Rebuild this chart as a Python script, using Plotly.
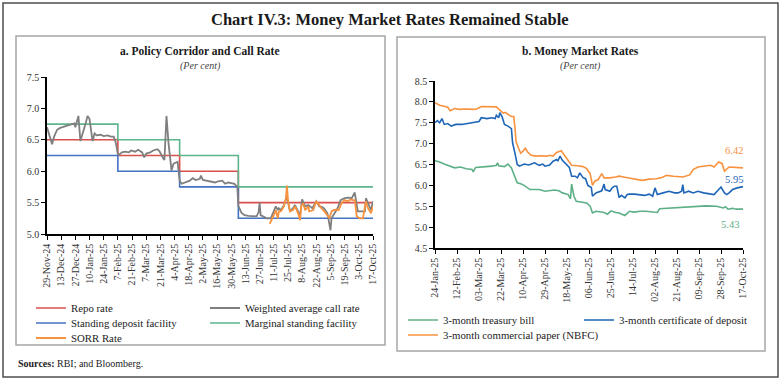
import plotly.graph_objects as go
import pandas as pd

W, H = 781, 380
SERIF = "Liberation Serif, DejaVu Serif, serif"

# ---------------- Panel a: Policy corridor and call rate ----------------
a_ticks = ["29-Nov-24", "13-Dec-24", "27-Dec-24", "10-Jan-25", "24-Jan-25", "7-Feb-25",
           "21-Feb-25", "7-Mar-25", "21-Mar-25", "4-Apr-25", "18-Apr-25", "2-May-25",
           "16-May-25", "30-May-25", "13-Jun-25", "27-Jun-25", "11-Jul-25", "25-Jul-25",
           "8-Aug-25", "22-Aug-25", "5-Sep-25", "19-Sep-25", "3-Oct-25", "17-Oct-25"]

policy_dates = ["2024-11-29", "2025-02-07", "2025-04-09", "2025-06-06", "2025-10-17"]
repo = [6.50, 6.25, 6.00, 5.50, 5.50]
sdf = [6.25, 6.00, 5.75, 5.25, 5.25]
msf = [6.75, 6.50, 6.25, 5.75, 5.75]

wacr_dates = ["2024-11-29", "2024-12-02", "2024-12-04", "2024-12-06", "2024-12-09", "2024-12-12",
              "2024-12-16", "2024-12-19", "2024-12-23", "2024-12-26", "2024-12-27", "2024-12-30",
              "2025-01-01", "2025-01-03", "2025-01-06", "2025-01-08", "2025-01-10", "2025-01-13",
              "2025-01-15", "2025-01-17", "2025-01-21", "2025-01-24", "2025-01-28", "2025-01-31",
              "2025-02-03", "2025-02-05", "2025-02-07", "2025-02-08", "2025-02-11", "2025-02-14",
              "2025-02-18", "2025-02-20", "2025-02-24", "2025-02-27", "2025-03-03", "2025-03-05",
              "2025-03-07", "2025-03-11", "2025-03-14", "2025-03-18", "2025-03-20", "2025-03-24",
              "2025-03-25", "2025-03-27", "2025-03-29", "2025-04-01", "2025-04-03", "2025-04-07",
              "2025-04-09", "2025-04-11", "2025-04-15", "2025-04-19", "2025-04-22", "2025-04-25",
              "2025-04-29", "2025-04-30", "2025-05-02", "2025-05-06", "2025-05-10", "2025-05-14",
              "2025-05-17", "2025-05-21", "2025-05-24", "2025-05-27", "2025-05-30", "2025-06-02",
              "2025-06-05", "2025-06-06", "2025-06-09", "2025-06-12", "2025-06-16", "2025-06-20",
              "2025-06-24", "2025-06-26", "2025-06-27", "2025-06-28", "2025-07-01", "2025-07-04",
              "2025-07-08", "2025-07-11", "2025-07-13", "2025-07-15", "2025-07-16", "2025-07-18",
              "2025-07-21", "2025-07-24", "2025-07-27", "2025-07-30", "2025-08-01", "2025-08-04",
              "2025-08-06", "2025-08-08", "2025-08-11", "2025-08-14", "2025-08-18", "2025-08-22",
              "2025-08-25", "2025-08-28", "2025-08-30", "2025-09-02", "2025-09-05", "2025-09-06",
              "2025-09-09", "2025-09-12", "2025-09-15", "2025-09-19", "2025-09-23", "2025-09-26",
              "2025-09-29", "2025-09-30", "2025-10-02", "2025-10-06", "2025-10-09", "2025-10-10",
              "2025-10-13", "2025-10-15", "2025-10-17"]
wacr = [6.70, 6.52, 6.43, 6.55, 6.66, 6.69,
        6.71, 6.72, 6.74, 6.76, 6.70, 6.88,
        6.48, 6.58, 6.75, 6.88, 6.83, 6.48,
        6.60, 6.57, 6.58, 6.56, 6.57, 6.55,
        6.55, 6.45, 6.27, 6.26, 6.30, 6.31,
        6.30, 6.33, 6.31, 6.34, 6.30, 6.22,
        6.28, 6.30, 6.33, 6.35, 6.32, 6.20,
        6.18, 6.88, 6.45, 6.01, 6.12, 6.15,
        5.85, 5.80, 5.83, 5.85, 5.89, 5.86,
        5.88, 5.93, 5.86, 5.85, 5.84, 5.82,
        5.84, 5.85, 5.80, 5.82, 5.81, 5.80,
        5.75, 5.45, 5.34, 5.30, 5.29, 5.28,
        5.28, 5.35, 5.50, 5.30, 5.27, 5.25,
        5.25, 5.36, 5.44, 5.38, 5.41, 5.38,
        5.46, 5.60, 5.36, 5.41, 5.46, 5.36,
        5.30, 5.55, 5.44, 5.46, 5.41, 5.52,
        5.44, 5.43, 5.40, 5.33, 5.06, 5.25,
        5.33, 5.41, 5.54, 5.57, 5.58, 5.57,
        5.66, 5.54, 5.36, 5.36, 5.36, 5.57,
        5.44, 5.38, 5.52]

sorr_dates = ["2025-07-07", "2025-07-10", "2025-07-11", "2025-07-13", "2025-07-15", "2025-07-16",
              "2025-07-18", "2025-07-21", "2025-07-23", "2025-07-24", "2025-07-25", "2025-07-27",
              "2025-07-30", "2025-08-01", "2025-08-04", "2025-08-06", "2025-08-07", "2025-08-09",
              "2025-08-11", "2025-08-14", "2025-08-15", "2025-08-19", "2025-08-22", "2025-08-25",
              "2025-08-27", "2025-08-30", "2025-09-02", "2025-09-04", "2025-09-06", "2025-09-08",
              "2025-09-11", "2025-09-13", "2025-09-16", "2025-09-19", "2025-09-22", "2025-09-25",
              "2025-09-27", "2025-09-29", "2025-10-01", "2025-10-04", "2025-10-07", "2025-10-10",
              "2025-10-12", "2025-10-15", "2025-10-17"]
sorr = [5.16, 5.25, 5.30, 5.38, 5.25, 5.36,
        5.36, 5.44, 5.57, 5.77, 5.54, 5.36,
        5.38, 5.44, 5.33, 5.22, 5.44, 5.49,
        5.38, 5.44, 5.36, 5.38, 5.52, 5.46,
        5.41, 5.36, 5.30, 5.25, 5.36, 5.38,
        5.39, 5.38, 5.49, 5.54, 5.52, 5.55,
        5.54, 5.54, 5.28, 5.25, 5.25, 5.52,
        5.41, 5.33, 5.44]

# ---------------- Panel b: Money market rates ----------------
b_ticks = ["24-Jan-25", "12-Feb-25", "03-Mar-25", "22-Mar-25", "10-Apr-25", "29-Apr-25",
           "18-May-25", "06-Jun-25", "25-Jun-25", "14-Jul-25", "02-Aug-25", "21-Aug-25",
           "09-Sep-25", "28-Sep-25", "17-Oct-25"]

cp_dates = ["2025-01-24", "2025-01-28", "2025-01-31", "2025-02-04", "2025-02-06", "2025-02-10",
            "2025-02-14", "2025-02-20", "2025-02-26", "2025-03-01", "2025-03-05", "2025-03-10",
            "2025-03-15", "2025-03-18", "2025-03-21", "2025-03-24", "2025-03-26", "2025-03-28",
            "2025-03-31", "2025-04-02", "2025-04-03", "2025-04-04", "2025-04-06", "2025-04-08",
            "2025-04-10", "2025-04-12", "2025-04-14", "2025-04-17", "2025-04-21", "2025-04-25",
            "2025-05-01", "2025-05-03", "2025-05-06", "2025-05-09", "2025-05-13", "2025-05-15",
            "2025-05-18", "2025-05-22", "2025-05-27", "2025-06-01", "2025-06-04", "2025-06-07",
            "2025-06-09", "2025-06-11", "2025-06-14", "2025-06-17", "2025-06-19", "2025-06-24",
            "2025-06-29", "2025-07-02", "2025-07-08", "2025-07-13", "2025-07-17", "2025-07-22",
            "2025-07-28", "2025-08-03", "2025-08-08", "2025-08-12", "2025-08-18", "2025-08-26",
            "2025-09-01", "2025-09-04", "2025-09-08", "2025-09-15", "2025-09-19", "2025-09-22",
            "2025-09-26", "2025-09-29", "2025-10-01", "2025-10-05", "2025-10-10", "2025-10-17"]
cp = [7.98, 7.92, 7.90, 7.87, 7.79, 7.84,
      7.82, 7.83, 7.82, 7.83, 7.89, 7.89,
      7.89, 7.88, 7.80, 7.73, 7.75, 7.70,
      7.65, 7.65, 7.40, 7.05, 6.90, 6.77,
      6.82, 6.89, 6.80, 6.72, 6.70, 6.71,
      6.70, 6.72, 6.70, 6.79, 6.83, 6.75,
      6.64, 6.48, 6.47, 6.45, 6.40, 6.28,
      6.00, 6.10, 6.14, 6.28, 6.18, 6.18,
      6.20, 6.22, 6.19, 6.16, 6.14, 6.12,
      6.15, 6.16, 6.19, 6.24, 6.22, 6.20,
      6.25, 6.38, 6.44, 6.46, 6.48, 6.44,
      6.56, 6.52, 6.34, 6.44, 6.43, 6.42]

cd_dates = ["2025-01-24", "2025-01-26", "2025-01-28", "2025-01-30", "2025-02-01", "2025-02-04",
            "2025-02-07", "2025-02-11", "2025-02-16", "2025-02-20", "2025-02-26", "2025-03-03",
            "2025-03-05", "2025-03-10", "2025-03-14", "2025-03-17", "2025-03-18", "2025-03-20",
            "2025-03-21", "2025-03-23", "2025-03-25", "2025-03-28", "2025-03-31", "2025-04-01",
            "2025-04-03", "2025-04-05", "2025-04-07", "2025-04-11", "2025-04-15", "2025-04-20",
            "2025-04-24", "2025-04-27", "2025-04-29", "2025-05-03", "2025-05-06", "2025-05-09",
            "2025-05-10", "2025-05-12", "2025-05-14", "2025-05-18", "2025-05-20", "2025-05-22",
            "2025-05-25", "2025-05-27", "2025-05-29", "2025-06-01", "2025-06-03", "2025-06-05",
            "2025-06-08", "2025-06-09", "2025-06-12", "2025-06-17", "2025-06-19", "2025-06-20",
            "2025-06-24", "2025-06-26", "2025-06-28", "2025-06-30", "2025-07-02", "2025-07-04",
            "2025-07-07", "2025-07-09", "2025-07-11", "2025-07-15", "2025-07-20", "2025-07-24",
            "2025-07-28", "2025-07-31", "2025-08-02", "2025-08-04", "2025-08-09", "2025-08-14",
            "2025-08-19", "2025-08-22", "2025-08-25", "2025-08-26", "2025-08-27", "2025-08-31",
            "2025-09-04", "2025-09-08", "2025-09-13", "2025-09-18", "2025-09-22", "2025-09-26",
            "2025-09-28", "2025-10-01", "2025-10-03", "2025-10-05", "2025-10-08", "2025-10-12",
            "2025-10-15", "2025-10-17"]
cd = [7.50, 7.55, 7.50, 7.60, 7.46, 7.48,
      7.42, 7.46, 7.46, 7.48, 7.52, 7.53,
      7.62, 7.60, 7.62, 7.60, 7.68, 7.62,
      7.74, 7.64, 7.46, 7.42, 7.36, 7.02,
      6.78, 6.50, 6.46, 6.51, 6.49, 6.54,
      6.48, 6.51, 6.46, 6.49, 6.58, 6.62,
      6.58, 6.70, 6.60, 6.48, 6.43, 6.22,
      6.22, 6.18, 6.30, 6.18, 6.16, 6.00,
      5.95, 5.74, 5.82, 5.87, 6.03, 5.90,
      5.86, 5.94, 5.98, 5.98, 5.71, 5.76,
      5.70, 5.78, 5.79, 5.79, 5.78, 5.76,
      5.79, 5.74, 5.94, 5.78, 5.82, 5.86,
      5.82, 5.82, 5.86, 6.02, 5.82, 5.86,
      5.82, 5.86, 5.82, 5.79, 5.78, 5.90,
      5.96, 5.82, 5.78, 5.82, 5.90, 5.94,
      5.95, 5.97]

tb_dates = ["2025-01-24", "2025-01-28", "2025-02-01", "2025-02-06", "2025-02-10", "2025-02-15",
            "2025-02-20", "2025-02-25", "2025-02-26", "2025-02-28", "2025-03-05", "2025-03-09",
            "2025-03-14", "2025-03-18", "2025-03-19", "2025-03-20", "2025-03-25", "2025-03-28",
            "2025-03-31", "2025-04-03", "2025-04-05", "2025-04-08", "2025-04-11", "2025-04-16",
            "2025-04-20", "2025-04-24", "2025-04-29", "2025-05-03", "2025-05-07", "2025-05-11",
            "2025-05-14", "2025-05-19", "2025-05-21", "2025-05-22", "2025-05-24", "2025-05-26",
            "2025-05-30", "2025-06-04", "2025-06-07", "2025-06-09", "2025-06-12", "2025-06-15",
            "2025-06-19", "2025-06-22", "2025-06-25", "2025-06-29", "2025-07-02", "2025-07-07",
            "2025-07-09", "2025-07-11", "2025-07-15", "2025-07-20", "2025-07-25", "2025-07-30",
            "2025-08-04", "2025-08-06", "2025-08-12", "2025-08-17", "2025-08-26", "2025-09-04",
            "2025-09-15", "2025-09-24", "2025-09-30", "2025-10-02", "2025-10-04", "2025-10-08",
            "2025-10-11", "2025-10-17"]
tbill = [6.59, 6.56, 6.51, 6.46, 6.42, 6.44,
         6.40, 6.38, 6.32, 6.43, 6.45, 6.45,
         6.46, 6.48, 6.54, 6.47, 6.45, 6.51,
         6.42, 6.18, 6.06, 6.04, 6.00, 5.90,
         5.90, 5.90, 5.86, 5.88, 5.89, 5.87,
         5.82, 5.78, 5.68, 6.03, 5.74, 5.62,
         5.60, 5.58, 5.50, 5.34, 5.38, 5.36,
         5.35, 5.31, 5.39, 5.35, 5.34, 5.28,
         5.34, 5.38, 5.36, 5.38, 5.38, 5.37,
         5.35, 5.44, 5.45, 5.46, 5.49, 5.50,
         5.51, 5.50, 5.46, 5.49, 5.43, 5.45,
         5.43, 5.43]

end_labels = ["6.42", "5.95", "5.43"]

# ---------------- colours ----------------
C_RED = "#D9504B"
C_GRAY = "#7F7F7F"
C_BLUE = "#4472C4"
C_GREEN = "#5DB58C"
C_ORANGE = "#F7923F"
C_DBLUE = "#1F66B8"
C_TGREEN = "#5DAF86"


def px(x):
    return x / W


def py(y):
    return 1 - y / H


fig = go.Figure()

# panel a traces (separate legend ids place them in two columns)
fig.add_trace(go.Scatter(x=policy_dates, y=repo, mode="lines", line=dict(color=C_RED, width=1.6, shape="hv"),
                         name="Repo rate", legend="legend", xaxis="x", yaxis="y"))
fig.add_trace(go.Scatter(x=policy_dates, y=sdf, mode="lines", line=dict(color=C_BLUE, width=1.6, shape="hv"),
                         name="Standing deposit facility", legend="legend2", xaxis="x", yaxis="y"))
fig.add_trace(go.Scatter(x=policy_dates, y=msf, mode="lines", line=dict(color=C_GREEN, width=1.6, shape="hv"),
                         name="Marginal standing facility", legend="legend4", xaxis="x", yaxis="y"))
fig.add_trace(go.Scatter(x=wacr_dates, y=wacr, mode="lines", line=dict(color=C_GRAY, width=1.8),
                         name="Weighted average call rate", legend="legend3", xaxis="x", yaxis="y"))
fig.add_trace(go.Scatter(x=sorr_dates, y=sorr, mode="lines", line=dict(color=C_ORANGE, width=1.8),
                         name="SORR Rate", legend="legend5", xaxis="x", yaxis="y"))

# panel b traces
fig.add_trace(go.Scatter(x=tb_dates, y=tbill, mode="lines", line=dict(color=C_TGREEN, width=1.6),
                         name="3-month treasury bill", legend="legend6", xaxis="x2", yaxis="y2"))
fig.add_trace(go.Scatter(x=cd_dates, y=cd, mode="lines", line=dict(color=C_DBLUE, width=1.6),
                         name="3-month certificate of deposit", legend="legend7", xaxis="x2", yaxis="y2"))
fig.add_trace(go.Scatter(x=cp_dates, y=cp, mode="lines", line=dict(color=C_ORANGE, width=1.6),
                         name="3-month commercial paper (NBFC)", legend="legend8", xaxis="x2", yaxis="y2"))

tickfont = dict(family=SERIF, size=10, color="#333333")


def xaxis_cfg(domain, labels, anchor):
    dates = [pd.to_datetime(t, format="%d-%b-%y") for t in labels]
    return dict(domain=domain, anchor=anchor, type="date", range=[dates[0], dates[-1]],
                tickmode="array", tickvals=dates, ticktext=labels, tickangle=-90,
                ticks="outside", ticklen=4, tickwidth=1, tickcolor="#000",
                showline=True, linecolor="#000", linewidth=1.5, showgrid=False, zeroline=False,
                tickfont=tickfont, automargin=False)


def yaxis_cfg(domain, rng, anchor):
    return dict(domain=domain, anchor=anchor, range=rng, dtick=0.5, tick0=0, tickformat=".1f",
                ticks="outside", ticklen=4, tickwidth=1, tickcolor="#000",
                showline=True, linecolor="#000", linewidth=1.5, showgrid=False, zeroline=False,
                tickfont=tickfont, automargin=False)


def leg(x, y):
    return dict(x=px(x), y=py(y), xanchor="left", yanchor="middle", orientation="v",
                bgcolor="rgba(0,0,0,0)", borderwidth=0,
                font=dict(family=SERIF, size=10.8, color="#222222"))


fig.update_layout(
    width=W, height=H, margin=dict(l=0, r=0, t=0, b=0, autoexpand=False),
    paper_bgcolor="white", plot_bgcolor="white", showlegend=True, hovermode=False,
    xaxis=xaxis_cfg([px(47), px(373)], a_ticks, "y"),
    yaxis=yaxis_cfg([py(234), py(77)], [5.0, 7.5], "x"),
    xaxis2=xaxis_cfg([px(435), px(743)], b_ticks, "y2"),
    yaxis2=yaxis_cfg([py(248), py(81)], [4.5, 8.5], "x2"),
    legend=leg(31, 308), legend2=leg(31, 323), legend5=leg(31, 338),
    legend3=leg(205, 308), legend4=leg(205, 323),
    legend6=leg(403, 320), legend8=leg(403, 335), legend7=leg(579, 320),
)

shapes = [
    dict(type="rect", xref="paper", yref="paper", x0=px(3), x1=px(778), y0=py(377), y1=py(3),
         line=dict(color="#4d4d4d", width=1.5)),
    dict(type="rect", xref="paper", yref="paper", x0=px(16), x1=px(385), y0=py(345), y1=py(36),
         line=dict(color="#a6a6a6", width=1.5)),
    dict(type="rect", xref="paper", yref="paper", x0=px(397), x1=px(765), y0=py(351), y1=py(37),
         line=dict(color="#a6a6a6", width=1.5)),
]
fig.update_layout(shapes=shapes)


def ann(text, x, y, size, color="#1a1a1a", xanchor="center"):
    return dict(text=text, xref="paper", yref="paper", x=px(x), y=py(y), xanchor=xanchor,
                yanchor="middle", showarrow=False, font=dict(family=SERIF, size=size, color=color))


annotations = [
    ann("<b>Chart IV.3: Money Market Rates Remained Stable</b>", 390, 20, 16.5),
    ann("<b>a. Policy Corridor and Call Rate</b>", 200, 52, 11.5),
    ann("<i>(Per cent)</i>", 200, 66, 10, "#444444"),
    ann("<b>b. Money Market Rates</b>", 580, 52, 11.5),
    ann("<i>(Per cent)</i>", 580, 66, 10, "#444444"),
    ann("<b>Sources:</b> RBI; and Bloomberg.", 16, 363, 10, "#222222", "left"),
    ann(end_labels[0], 734, 150, 10.5, C_ORANGE),
    ann(end_labels[1], 734, 179, 10.5, C_DBLUE),
    ann(end_labels[2], 730, 225, 10.5, C_TGREEN),
]
fig.update_layout(annotations=annotations)

fig.write_html("out.html", config={"displayModeBar": False},
               post_script="document.body.style.margin='0';document.body.style.overflow='hidden';")
